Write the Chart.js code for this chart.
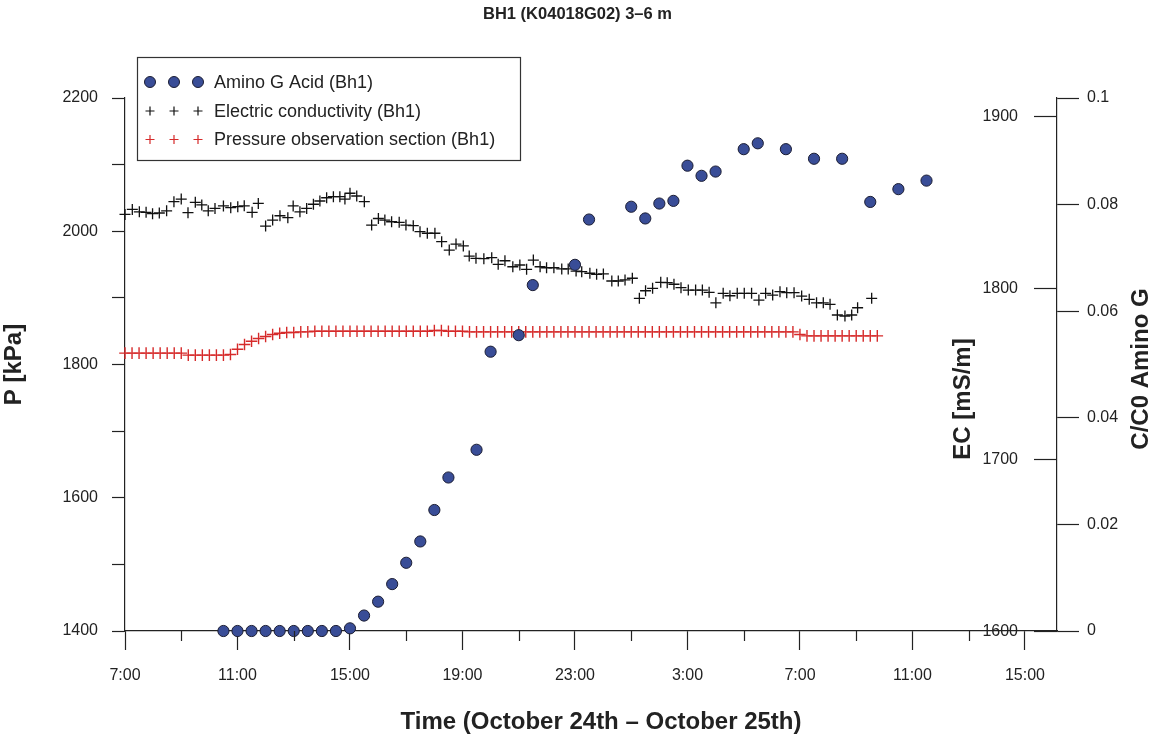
<!DOCTYPE html>
<html>
<head>
<meta charset="utf-8">
<title>BH1 (K04018G02) 3–6 m</title>
<script src="https://cdn.jsdelivr.net/npm/chart.js@4.4.1/dist/chart.umd.min.js"></script>
<style>
    html, body { margin: 0; padding: 0; background: #fff; }
    #wrap { position: relative; width: 1155px; height: 740px; }
</style>
</head>
<body>
<div id="wrap"><canvas id="myChart" width="1155" height="740"></canvas></div>
<script>
// --- data (time = hours since Oct 24th 0:00) ---
var aminoHours = [10.5, 11, 11.5, 12, 12.5, 13, 13.5, 14, 14.5, 15, 15.5, 16, 16.5, 17, 17.5, 18, 18.5, 19.5,
    20, 21, 21.5, 23, 23.5, 25, 25.5, 26, 26.5, 27, 27.5, 28, 29, 29.5, 30.5, 31.5, 32.5, 33.5, 34.5, 35.5];
var aminoValues = [0, 0, 0, 0, 0, 0, 0, 0, 0, 0.0005, 0.0029, 0.0055, 0.0088, 0.0128, 0.0168, 0.0227, 0.0288, 0.034,
    0.0524, 0.0555, 0.0649, 0.0687, 0.0772, 0.0796, 0.0774, 0.0802, 0.0807, 0.0873, 0.0854, 0.0862, 0.0904, 0.0915,
    0.0904, 0.0886, 0.0886, 0.0805, 0.0829, 0.0845];

var ecHours = [7.0, 7.26, 7.51, 7.75, 7.98, 8.22, 8.48, 8.74, 9.0, 9.24, 9.5, 9.73, 9.96, 10.2, 10.5, 10.76,
    11.01, 11.24, 11.52, 11.74, 12.0, 12.25, 12.51, 12.79, 12.98, 13.22, 13.46, 13.7, 13.93, 14.17, 14.41, 14.64,
    14.82, 15.0, 15.24, 15.51, 15.77, 16.01, 16.24, 16.48, 16.75, 16.99, 17.25, 17.49, 17.75, 18.02, 18.26, 18.53,
    18.77, 19.03, 19.24, 19.48, 19.76, 20.04, 20.27, 20.51, 20.79, 21.04, 21.28, 21.52, 21.76, 21.99, 22.25, 22.53,
    22.76, 23.04, 23.24, 23.53, 23.77, 24.01, 24.31, 24.54, 24.78, 25.04, 25.29, 25.51, 25.76, 26.05, 26.28, 26.52,
    26.77, 27.03, 27.29, 27.53, 27.77, 28.01, 28.27, 28.51, 28.77, 29.02, 29.28, 29.54, 29.78, 30.03, 30.29, 30.53,
    30.79, 31.06, 31.33, 31.59, 31.83, 32.07, 32.33, 32.6, 32.84, 33.05, 33.55];
var ecValues = [1842.7, 1845.6, 1844.2, 1843.9, 1843.1, 1843.5, 1844.8, 1850.1, 1851.6, 1843.7,
    1849.7, 1848.2, 1844.8, 1846.2, 1847.6, 1846.6, 1847.2, 1847.7, 1843.9, 1849.1,
    1835.9, 1839.4, 1841.9, 1840.8, 1847.6, 1844.2, 1846.2, 1848.6, 1850.5, 1852.4,
    1853.0, 1853.0, 1851.6, 1855.0, 1853.4, 1850.1, 1836.5, 1840.3, 1839.4, 1838.4,
    1838.1, 1836.5, 1836.1, 1832.6, 1831.7, 1831.7, 1826.8, 1821.9, 1825.4, 1824.3,
    1818.4, 1817.1, 1816.9, 1817.5, 1813.6, 1815.7, 1812.2, 1813.2, 1810.7, 1816.1,
    1812.2, 1811.6, 1811.6, 1810.9, 1810.9, 1809.7, 1809.3, 1808.4, 1807.8, 1808.0,
    1803.9, 1803.9, 1804.5, 1805.5, 1793.8, 1798.2, 1799.6, 1803.1, 1802.9, 1802.0,
    1800.0, 1798.6, 1798.6, 1798.6, 1797.3, 1791.2, 1796.7, 1795.3, 1796.7, 1796.7,
    1796.7, 1792.8, 1796.7, 1795.7, 1797.7, 1797.1, 1797.1, 1795.1, 1793.2, 1791.2,
    1791.2, 1790.3, 1784.1, 1783.5, 1784.1, 1788.3, 1793.8];

var pHours = [7, 7.25, 7.5, 7.75, 8, 8.25, 8.5, 8.75, 9, 9.25, 9.5, 9.75, 10, 10.25, 10.5, 10.75,
    11, 11.25, 11.5, 11.75, 12, 12.25, 12.5, 12.75, 13, 13.25, 13.5, 13.75, 14, 14.25, 14.5, 14.75,
    15, 15.25, 15.5, 15.75, 16, 16.25, 16.5, 16.75, 17, 17.25, 17.5, 17.75, 18, 18.25, 18.5, 18.75,
    19, 19.25, 19.5, 19.75, 20, 20.25, 20.5, 20.75, 21, 21.25, 21.5, 21.75, 22, 22.25, 22.5, 22.75,
    23, 23.25, 23.5, 23.75, 24, 24.25, 24.5, 24.75, 25, 25.25, 25.5, 25.75, 26, 26.25, 26.5, 26.75,
    27, 27.25, 27.5, 27.75, 28, 28.25, 28.5, 28.75, 29, 29.25, 29.5, 29.75, 30, 30.25, 30.5, 30.75,
    31, 31.25, 31.5, 31.75, 32, 32.25, 32.5, 32.75, 33, 33.25, 33.5, 33.75];
var pValues = [1817, 1817, 1817, 1817, 1817, 1817, 1817, 1817, 1817, 1814, 1814, 1814, 1814, 1814, 1814, 1815,
    1823, 1830, 1835, 1839, 1842, 1845, 1847, 1848, 1848, 1849, 1849, 1850, 1850, 1850, 1850, 1850,
    1850, 1850, 1850, 1850, 1850, 1850, 1850, 1850, 1850, 1850, 1850, 1850, 1851, 1851, 1850, 1850,
    1850, 1849, 1849, 1849, 1849, 1849, 1849, 1849, 1849, 1849, 1849, 1849, 1849, 1849, 1849, 1849,
    1849, 1849, 1849, 1849, 1849, 1849, 1849, 1849, 1849, 1849, 1849, 1849, 1849, 1849, 1849, 1849,
    1849, 1849, 1849, 1849, 1849, 1849, 1849, 1849, 1849, 1849, 1849, 1849, 1849, 1849, 1849, 1849,
    1845, 1843, 1843, 1843, 1843, 1843, 1843, 1843, 1843, 1843, 1843, 1843];

// axis ticks
var timeTicks = [7, 9, 11, 13, 15, 17, 19, 21, 23, 25, 27, 29, 31, 33, 35, 37, 39];
var timeLabels = ['7:00', '', '11:00', '', '15:00', '', '19:00', '', '23:00', '', '3:00', '', '7:00', '', '11:00', '', '15:00'];
var pTicks = [1400, 1500, 1600, 1700, 1800, 1900, 2000, 2100, 2200];
var pLabels = ['1400', '', '1600', '', '1800', '', '2000', '', '2200'];
var ecTicks = [1600, 1700, 1800, 1900];
var ccTicks = [0, 0.02, 0.04, 0.06, 0.08, 0.1];
var ccLabels = ['0', '0.02', '0.04', '0.06', '0.08', '0.1'];

var FONT = "'Liberation Sans', Arial, Helvetica, sans-serif";
var INK = '#222';

function pairs(xs, ys) {
    return xs.map(function (x, i) {
        return { x: x, y: ys[i] };
    });
}

function setTicks(list) {
    return function (scale) {
        scale.ticks = list.map(function (v) {
            return { value: v };
        });
    };
}

function marker(ctx, ds, x, y, r) {
    ctx.fillStyle = ds.pointBackgroundColor;
    ctx.strokeStyle = ds.pointBorderColor;
    ctx.lineWidth = ds.pointStyle == 'cross' ? 1.2 : ds.pointBorderWidth;
    if (Chart.helpers && Chart.helpers.drawPoint) {
        Chart.helpers.drawPoint(ctx, {
            pointStyle: ds.pointStyle,
            radius: r,
            rotation: 0,
            borderWidth: ctx.lineWidth
        }, x, y);
    }
}

var extras = {
    id: 'extras',
    afterDraw: function (chart) {
        var ctx = chart.ctx;
        var area = chart.chartArea;
        var xs = chart.scales.x;
        var ec = chart.scales.ec;
        ctx.save();

        // minor time ticks
        ctx.strokeStyle = INK;
        ctx.lineWidth = 1.2;
        timeTicks.forEach(function (v, i) {
            if (timeLabels[i]) return;
            var px = Math.round(xs.getPixelForValue(v)) + 0.5;
            ctx.beginPath();
            ctx.moveTo(px, area.bottom);
            ctx.lineTo(px, area.bottom + 10);
            ctx.stroke();
        });

        // EC axis: ticks pointing inward from the right border
        ctx.font = '16px ' + FONT;
        ctx.fillStyle = INK;
        ctx.textAlign = 'right';
        ctx.textBaseline = 'middle';
        ecTicks.forEach(function (v) {
            var py = Math.round(ec.getPixelForValue(v)) + 0.5;
            ctx.beginPath();
            ctx.moveTo(area.right - 23, py);
            ctx.lineTo(area.right, py);
            ctx.stroke();
            ctx.fillText(String(v), area.right - 39, py);
        });

        // rotated axis titles
        ctx.font = 'bold 24px ' + FONT;
        ctx.textAlign = 'center';
        [['EC [mS/m]', 963, 399], ['C/C0 Amino G', 1141, 369]].forEach(function (t) {
            ctx.save();
            ctx.translate(t[1], t[2]);
            ctx.rotate(-Math.PI / 2);
            ctx.fillText(t[0], 0, 0);
            ctx.restore();
        });
        ctx.fillText('Time (October 24th \u2013 October 25th)', 601, 722);

        // legend box with three markers per entry
        ctx.fillStyle = '#fff';
        ctx.fillRect(137, 57, 384, 103);
        ctx.strokeStyle = '#333';
        ctx.lineWidth = 1.2;
        ctx.strokeRect(137.5, 57.5, 383, 103);
        var rows = [82, 111, 139.5];
        chart.data.datasets.forEach(function (ds, i) {
            [150, 174, 198].forEach(function (mx) {
                marker(ctx, ds, mx, rows[i], ds.pointStyle == 'cross' ? 4.5 : 5.5);
            });
            ctx.fillStyle = INK;
            ctx.font = '18px ' + FONT;
            ctx.textAlign = 'left';
            ctx.textBaseline = 'middle';
            ctx.fillText(ds.label, 214, rows[i] + 1);
        });
        ctx.restore();
    }
};

var ctx = document.getElementById('myChart').getContext('2d');
var chart = new Chart(ctx, {
    type: 'scatter',
    data: {
        datasets: [{
            label: 'Amino G Acid (Bh1)',
            data: pairs(aminoHours, aminoValues),
            yAxisID: 'cc',
            pointStyle: 'circle',
            pointRadius: 5.6,
            pointBorderWidth: 1,
            pointBackgroundColor: '#394d97',
            pointBorderColor: '#1b1d33',
            clip: false
        }, {
            label: 'Electric conductivity (Bh1)',
            data: pairs(ecHours, ecValues),
            yAxisID: 'ec',
            pointStyle: 'cross',
            pointRadius: 5.5,
            pointBorderWidth: 1.3,
            pointBackgroundColor: '#111',
            pointBorderColor: '#111',
            clip: false
        }, {
            label: 'Pressure observation section (Bh1)',
            data: pairs(pHours, pValues),
            yAxisID: 'p',
            pointStyle: 'cross',
            pointRadius: 5.8,
            pointBorderWidth: 1.4,
            pointBackgroundColor: '#d62a2a',
            pointBorderColor: '#d62a2a',
            clip: false
        }]
    },
    options: {
        responsive: false,
        animation: false,
        devicePixelRatio: 1,
        events: [],
        layout: { padding: 0 },
        plugins: {
            legend: { display: false },
            tooltip: { enabled: false },
            title: {
                display: true,
                text: 'BH1 (K04018G02) 3\u20136 m',
                color: INK,
                font: { family: FONT, size: 16.5, weight: 'bold' },
                padding: { top: 5, bottom: 73.2 }
            }
        },
        scales: {
            x: {
                type: 'linear',
                position: 'bottom',
                min: 7,
                max: 40.14,
                afterBuildTicks: setTicks(timeTicks),
                afterFit: function (s) { s.height = 109; },
                ticks: {
                    autoSkip: false,
                    maxRotation: 0,
                    padding: 16,
                    color: INK,
                    font: { family: FONT, size: 16 },
                    callback: function (v, i) { return timeLabels[i]; }
                },
                grid: {
                    drawOnChartArea: false,
                    tickLength: 19,
                    tickWidth: 1.2,
                    tickColor: function (c) { return timeLabels[c.index] ? INK : 'rgba(0,0,0,0)'; }
                },
                border: { display: true, color: INK, width: 1.2 }
            },
            p: {
                type: 'linear',
                position: 'left',
                min: 1400,
                max: 2200,
                afterBuildTicks: setTicks(pTicks),
                afterFit: function (s) { s.width = 125; },
                ticks: {
                    autoSkip: false,
                    padding: 14,
                    color: INK,
                    font: { family: FONT, size: 16 },
                    callback: function (v, i) { return pLabels[i]; }
                },
                grid: { drawOnChartArea: false, tickLength: 13, tickWidth: 1.2, tickColor: INK },
                border: { display: true, color: INK, width: 1.2 },
                title: {
                    display: true,
                    text: 'P [kPa]',
                    color: INK,
                    font: { family: FONT, size: 24, weight: 'bold' },
                    padding: 0
                }
            },
            cc: {
                type: 'linear',
                position: 'right',
                min: 0,
                max: 0.1,
                afterBuildTicks: setTicks(ccTicks),
                afterFit: function (s) { s.width = 98; },
                ticks: {
                    autoSkip: false,
                    padding: 8,
                    color: INK,
                    font: { family: FONT, size: 16 },
                    callback: function (v, i) { return ccLabels[i]; }
                },
                grid: { drawOnChartArea: false, tickLength: 22, tickWidth: 1.2, tickColor: INK },
                border: { display: true, color: INK, width: 1.2 }
            },
            ec: {
                type: 'linear',
                position: 'right',
                display: false,
                min: 1600,
                max: 1910.5
            }
        }
    },
    plugins: [extras]
});
</script>
</body>
</html>
